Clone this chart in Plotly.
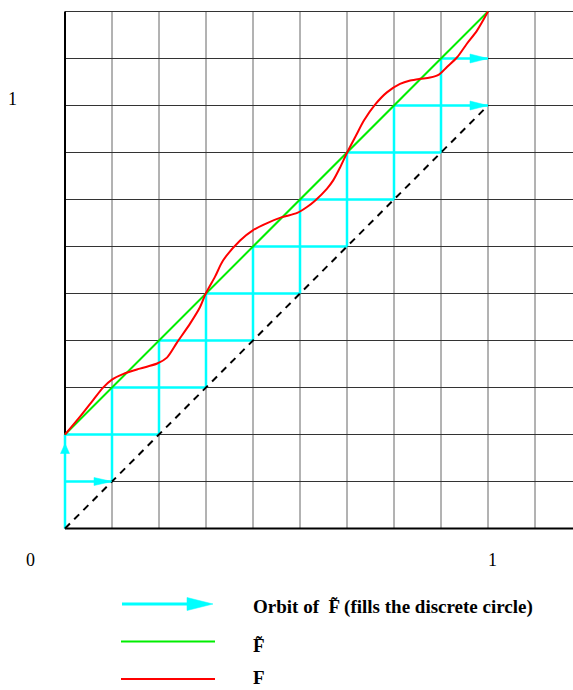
import numpy as np
import plotly.graph_objects as go

# ---------------- data ----------------
# grid: unit square split into ninths (discrete circle with 9 points)
n_cells = 9
n_cols = 10          # vertical grid lines beyond x=0
n_rows = 11          # horizontal grid lines beyond y=0

# F~ (rigid rotation by 2/9) : straight line
green_x = [0.0, 1.0]
green_y = [2 / 9, 11 / 9]

# identity (dashed diagonal)
diag_x = [0.0, 1.0]
diag_y = [0.0, 1.0]

# F : perturbed lift
red_x = [0.000, 0.036, 0.066, 0.090, 0.111, 0.137, 0.177, 0.218, 0.241, 0.265, 0.296, 0.319, 0.333,
         0.355, 0.374, 0.414, 0.444, 0.478, 0.513, 0.549, 0.572, 0.591, 0.619, 0.634, 0.650, 0.667,
         0.688, 0.707, 0.733, 0.761, 0.792, 0.816, 0.839, 0.863, 0.884, 0.903, 0.927, 0.950, 0.974, 1.000]
red_y = [0.222, 0.265, 0.303, 0.333, 0.352, 0.365, 0.378, 0.390, 0.404, 0.440, 0.485, 0.523, 0.556,
         0.596, 0.634, 0.681, 0.705, 0.722, 0.736, 0.746, 0.760, 0.775, 0.803, 0.823, 0.853, 0.889,
         0.929, 0.965, 1.002, 1.031, 1.051, 1.059, 1.063, 1.066, 1.073, 1.091, 1.114, 1.146, 1.177, 1.222]

# orbit of F~ on the discrete circle
orbit = [0 / 9, 2 / 9, 4 / 9, 6 / 9, 8 / 9, 1 / 9, 3 / 9, 5 / 9, 7 / 9]

axis_labels = [("0", 30, 560), ("1", 492, 560), ("1", 12.5, 99)]
legend_texts = ["<b>Orbit of \u00a0F\u0303 (fills the discrete circle)</b>", "<b>F\u0303</b>", "<b>F</b>"]

# ---------------- layout helpers (pixel geometry) ----------------
W, H = 573, 690
S = 423.0            # pixels per unit
X0, Y0 = 65.0, 528.5  # pixel of the origin


def dx(px):
    return (px - X0) / S


def dy(py):
    return (Y0 - py) / S


XMAX = dx(W)
YTOP = n_rows / n_cells

CYAN = "#00FFFF"
GREEN = "#00EE00"
RED = "#FF0000"

fig = go.Figure()

# grid
vx, vy = [], []
for k in range(1, n_cols + 1):
    vx += [k / n_cells, k / n_cells, None]
    vy += [0, YTOP, None]
fig.add_trace(go.Scatter(x=vx, y=vy, mode="lines", line=dict(color="#666666", width=1), hoverinfo="skip"))
hx, hy = [], []
for k in range(1, n_rows + 1):
    hx += [0, XMAX + 0.05, None]
    hy += [k / n_cells, k / n_cells, None]
fig.add_trace(go.Scatter(x=hx, y=hy, mode="lines", line=dict(color="#333333", width=1), hoverinfo="skip"))
fig.add_trace(go.Scatter(x=[0, 0, None, 0, XMAX + 0.05], y=[YTOP, 0, None, 0, 0], mode="lines",
                         line=dict(color="black", width=2), hoverinfo="skip"))

# orbit staircase
Ft = lambda v: float(np.interp(v, green_x, green_y))
cx, cy = [], []
heads = []  # (tip_x, tip_y, dir_x, dir_y, length_px, width_px)
for i, p in enumerate(orbit):
    q = Ft(p)
    cx += [p, p, None]
    cy += [p, q, None]
    if i == 0:
        heads.append((p, q - 9 / S, 0, 1, 10, 9))
    if q < 1 - 1e-9:
        cx += [p, q, None]
        cy += [q, q, None]
    else:
        cx += [p, 1, None]
        cy += [q, q, None]
        heads.append((1, q, 1, 0, 18, 9))
        r = q - 1
        if r > 1e-9:
            cx += [0, r, None]
            cy += [r, r, None]
            heads.append((r, r, 1, 0, 18, 8))
fig.add_trace(go.Scatter(x=cx, y=cy, mode="lines", line=dict(color=CYAN, width=2.5), hoverinfo="skip"))

fig.add_trace(go.Scatter(x=diag_x, y=diag_y, mode="lines",
                         line=dict(color="black", width=2, dash="7px,6px"), hoverinfo="skip"))
fig.add_trace(go.Scatter(x=green_x, y=green_y, mode="lines", line=dict(color=GREEN, width=2), hoverinfo="skip"))
fig.add_trace(go.Scatter(x=red_x, y=red_y, mode="lines", line=dict(color=RED, width=2, shape="spline", smoothing=0.8),
                         hoverinfo="skip"))


def head_path(tx, ty, ux, uy, L, Wd):
    L /= S
    hw = Wd / 2 / S
    bx, by = tx - ux * L, ty - uy * L
    nx, ny = -uy, ux
    return (f"M{tx},{ty} L{bx + nx * hw},{by + ny * hw} L{bx - nx * hw},{by - ny * hw} Z")


shapes = []
for h in heads:
    shapes.append(dict(type="path", xref="x", yref="y", path=head_path(*h),
                       fillcolor=CYAN, line=dict(color=CYAN, width=0.5)))

# legend (drawn below the chart)
leg_rows = [604, 641.5, 679]
shapes.append(dict(type="line", xref="x", yref="y", x0=dx(122), x1=dx(195), y0=dy(leg_rows[0]), y1=dy(leg_rows[0]),
                   line=dict(color=CYAN, width=3)))
shapes.append(dict(type="path", xref="x", yref="y", path=head_path(dx(213), dy(leg_rows[0]), 1, 0, 26, 13),
                   fillcolor=CYAN, line=dict(color=CYAN, width=0.5)))
shapes.append(dict(type="line", xref="x", yref="y", x0=dx(121), x1=dx(215), y0=dy(leg_rows[1]), y1=dy(leg_rows[1]),
                   line=dict(color=GREEN, width=2)))
shapes.append(dict(type="line", xref="x", yref="y", x0=dx(121), x1=dx(215), y0=dy(leg_rows[2]), y1=dy(leg_rows[2]),
                   line=dict(color=RED, width=2)))

annotations = []
for txt, px, py in axis_labels:
    annotations.append(dict(text=txt, x=dx(px), y=dy(py), xref="x", yref="y", showarrow=False,
                            xanchor="center", yanchor="middle",
                            font=dict(family="Liberation Serif", size=18, color="black")))
text_rows = [607, 645, 677]
for txt, py in zip(legend_texts, text_rows):
    annotations.append(dict(text=txt, x=dx(252), y=dy(py), xref="x", yref="y", showarrow=False,
                            xanchor="left", yanchor="middle", borderpad=0,
                            font=dict(family="Liberation Serif", size=19, color="black")))

fig.update_layout(
    width=W, height=H, margin=dict(l=0, r=0, t=0, b=0),
    paper_bgcolor="white", plot_bgcolor="white", showlegend=False,
    xaxis=dict(range=[dx(0), dx(W)], visible=False, fixedrange=True),
    yaxis=dict(range=[dy(H), dy(0)], visible=False, fixedrange=True),
    shapes=shapes, annotations=annotations,
)

fig.write_html("out.html")
